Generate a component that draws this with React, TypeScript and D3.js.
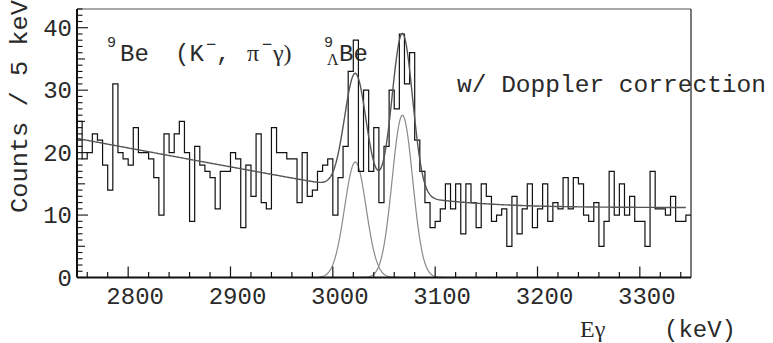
import React from "react";
import * as d3 from "d3";

// Spectrum: counts per 5 keV bin, starting at 2750 keV
const binStart = 2750;
const binWidth = 5;
const counts = [
  25, 19, 20, 23, 22, 18, 14, 31, 20, 19,
  18, 24, 20, 20, 19, 16, 10, 23, 20, 23,
  25, 20, 9, 21, 18, 17, 16, 11, 17, 17,
  20, 19, 8, 18, 13, 23, 12, 11, 24, 20,
  20, 19, 19, 12, 20, 13, 14, 17, 18, 19,
  10, 16, 21, 33, 38, 17, 30, 17, 24, 12,
  21, 30, 27, 39, 31, 36, 22, 17, 12, 8,
  9, 11, 15, 11, 15, 7, 15, 12, 8, 15,
  13, 9, 10, 11, 5, 13, 7, 11, 15, 8,
  11, 15, 9, 12, 11, 16, 11, 16, 15, 10,
  9, 12, 5, 9, 17, 10, 15, 10, 13, 9,
  9, 5, 17, 11, 11, 10, 13, 9, 9, 10,
];

// Axis ticks
const xTickLabels = [2800, 2900, 3000, 3100, 3200, 3300];
const yTickLabels = [0, 10, 20, 30, 40];

// Fit: smooth background plus two gaussian peaks
const bgFloor = 11.2;
const bgSlope = 0.0305;
const bgKnee = 3113;
const bgSoft = 50;
const peakCenters = [3022, 3068];
const peakSigmas = [10.5, 10];
const peakAmps = [18.5, 26];
const fitRange = [2750, 3345];
const peakRange = [2987, 3135];

const W = 773;
const H = 343;
const X0 = 77;
const X1 = 691;
const Y0 = 277.5;
const Y1 = 9;

const x = d3.scaleLinear().domain([2750, 3350]).range([X0, X1]);
const y = d3.scaleLinear().domain([0, 43]).range([Y0, Y1]);

const background = (e: number) =>
  bgFloor + bgSlope * bgSoft * Math.log(1 + Math.exp((bgKnee - e) / bgSoft));
const gauss = (e: number, i: number) =>
  peakAmps[i] * Math.exp(-0.5 * ((e - peakCenters[i]) / peakSigmas[i]) ** 2);
const total = (e: number) => background(e) + gauss(e, 0) + gauss(e, 1);

const MONO = "'Liberation Mono', 'DejaVu Sans Mono', monospace";
const SERIF = "'Liberation Serif', 'DejaVu Serif', serif";
const INK = "#2a2a2a";

export default function App() {
  // histogram outline
  const pts: [number, number][] = [];
  counts.forEach((c, i) => {
    const a = binStart + i * binWidth;
    pts.push([x(a), y(c)]);
    pts.push([x(a + binWidth), y(c)]);
  });
  const histPath = d3.line()(pts) ?? "";

  const fitPath =
    d3
      .line<number>()
      .x((e) => x(e))
      .y((e) => y(total(e)))(d3.range(fitRange[0], fitRange[1] + 0.5, 1)) ?? "";

  const compPaths = peakCenters.map(
    (_c, i) =>
      d3
        .line<number>()
        .x((e) => x(e))
        .y((e) => y(gauss(e, i)))(d3.range(peakRange[0], peakRange[1] + 0.5, 1)) ?? ""
  );

  const xMinor = d3.range(2760, 3350, 20);
  const yMinor = d3.range(0, 44, 1);

  return (
    <svg
      width={W}
      height={H}
      style={{ position: "fixed", left: 0, top: 0, background: "#fff" }}
    >
      {/* frame */}
      <line x1={X0} x2={X1} y1={Y1} y2={Y1} stroke="#555" strokeWidth={1.2} />
      <line x1={X1} x2={X1} y1={Y1} y2={Y0} stroke="#222" strokeWidth={1.2} />

      {/* gaussian components */}
      {compPaths.map((p, i) => (
        <path key={i} d={p} fill="none" stroke="#8a8a8a" strokeWidth={1.2} />
      ))}

      {/* histogram */}
      <path d={histPath} fill="none" stroke="#111" strokeWidth={1.2} />

      {/* total fit */}
      <path d={fitPath} fill="none" stroke="#555" strokeWidth={1.4} />

      {/* x ticks */}
      {xMinor.map((t) => (
        <line
          key={"xm" + t}
          x1={x(t)}
          x2={x(t)}
          y1={Y0}
          y2={Y0 - (t % 100 === 0 ? 11 : 5.5)}
          stroke="#111"
          strokeWidth={1.2}
        />
      ))}
      {xTickLabels.map((t) => (
        <text
          key={"xl" + t}
          x={x(t) + 7}
          y={304}
          textAnchor="middle"
          fontFamily={MONO}
          fontSize={24}
          fill={INK}
        >
          {t}
        </text>
      ))}

      {/* y ticks */}
      {yMinor.map((t) => (
        <line
          key={"ym" + t}
          x1={X0}
          x2={X0 + (t % 10 === 0 ? 11 : t % 5 === 0 ? 8 : 5.5)}
          y1={y(t)}
          y2={y(t)}
          stroke="#111"
          strokeWidth={1.1}
        />
      ))}
      {yTickLabels.map((t) => (
        <text
          key={"yl" + t}
          x={72}
          y={y(t) + 8}
          textAnchor="end"
          fontFamily={MONO}
          fontSize={24}
          fill={INK}
        >
          {t}
        </text>
      ))}

      {/* axes */}
      <line x1={X0} x2={X1} y1={Y0} y2={Y0} stroke="#111" strokeWidth={2} />
      <line x1={X0} x2={X0} y1={Y1} y2={Y0} stroke="#111" strokeWidth={2} />

      {/* y title */}
      <text
        transform="translate(27,213) rotate(-90)"
        fontFamily={MONO}
        fontSize={24}
        fill={INK}
        textLength={213}
        lengthAdjust="spacingAndGlyphs"
      >
        Counts / 5 keV
      </text>

      {/* x title */}
      <text x={580} y={337} fontFamily={SERIF} fontSize={24} fill={INK}>
        Eγ
      </text>
      <text x={664} y={337} fontFamily={MONO} fontSize={24} fill={INK}>
        (keV)
      </text>

      {/* reaction label */}
      <g fill={INK} fontSize={24}>
        <text x={107} y={47} fontFamily={MONO} fontSize={15}>9</text>
        <text x={120} y={61} fontFamily={MONO}>Be</text>
        <text x={175} y={61} fontFamily={MONO}>(K</text>
        <text x={206} y={50} fontFamily={MONO} fontSize={17}>−</text>
        <text x={216} y={61} fontFamily={MONO}>,</text>
        <text x={247} y={61} fontFamily={SERIF}>π</text>
        <text x={262} y={50} fontFamily={MONO} fontSize={17}>−</text>
        <text x={273} y={61} fontFamily={SERIF}>γ)</text>
        <text x={324} y={47} fontFamily={MONO} fontSize={15}>9</text>
        <text x={327} y={65} fontFamily={SERIF} fontSize={16}>Λ</text>
        <text x={339} y={61} fontFamily={MONO}>Be</text>
      </g>

      <text
        x={457}
        y={92}
        fontFamily={MONO}
        fontSize={24}
        fill={INK}
        textLength={309}
        lengthAdjust="spacingAndGlyphs"
      >
        w/ Doppler correction
      </text>
    </svg>
  );
}
